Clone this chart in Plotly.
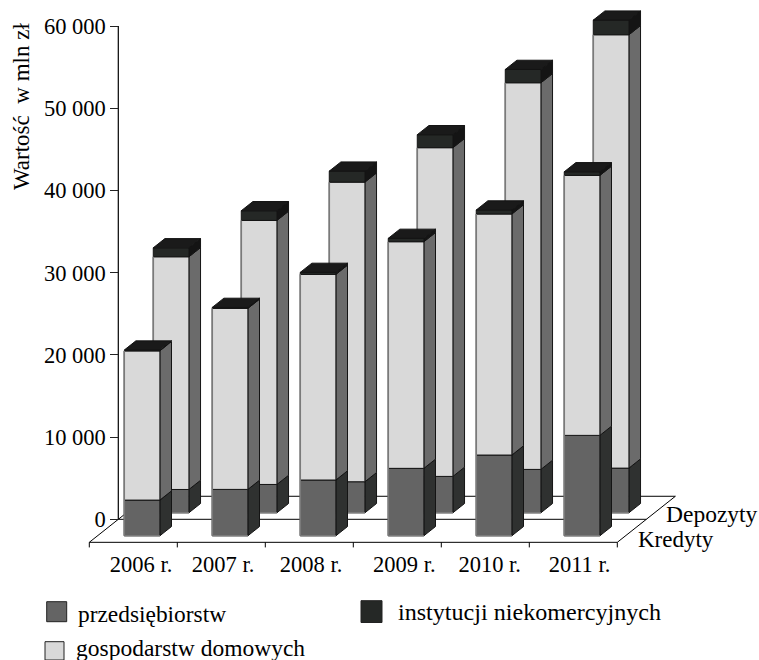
import plotly.graph_objects as go

# ---------- data (mln zl) ----------
years = ["2006 r.", "2007 r.", "2008 r.", "2009 r.", "2010 r.", "2011 r."]
rows = ["Kredyty", "Depozyty"]
kredyty_przedsiebiorstw = [4340, 5640, 6780, 8200, 9820, 12210]
kredyty_gospodarstwa = [18160, 22020, 25020, 27570, 29320, 31630]
kredyty_instytucje = [90, 120, 240, 410, 490, 440]
depozyty_przedsiebiorstw = [2830, 3440, 3770, 4420, 5270, 5430]
depozyty_gospodarstwa = [28310, 32120, 36450, 39990, 47040, 52720]
depozyty_instytucje = [1090, 1180, 1340, 1580, 1620, 1780]
y_tick_values = [0, 10000, 20000, 30000, 40000, 50000, 60000]
y_tick_labels = ["0", "10 000", "20 000", "30 000", "40 000", "50 000", "60 000"]
year_label_slots = [0.5875, 1.52, 2.52, 3.58, 4.55, 5.57]

# ---------- look ----------
W, H = 759, 660
FONT = "Liberation Serif"
PX_PER_SLOT = 88.0
PX_PER_1000 = 8.22
LEFT_PX, ZERO_PX = 89.3, 519.3
AXIS_PX = 118.3
SKEW_X = 0.33      # slots per depth unit
SKEW_Y = 2800.0    # value per depth unit
BAR_W = 0.405
BAR_D = 0.40
BAR_X = 0.303
ROW_D = [0.285, 1.285]
EDGE = "#141414"
LIGHT_EDGE = "#7a7a7a"
FACES = [
    dict(name="przedsiębiorstw", front="#646464", side="#2f3130"),
    dict(name="gospodarstw domowych", front="#d9d9d9", side="#6b6b6b"),
    dict(name="instytucji niekomercyjnych", front="#252826", side="#141414"),
]
TOP = "#1a1a1a"
TEXT = "#000000"


def proj(x, d, v):
    return x + d * SKEW_X, v + (d - 1) * SKEW_Y


fig = go.Figure()


def poly(points, color, name=None):
    p = [proj(*q) for q in points]
    p.append(p[0])
    fig.add_trace(go.Scatter(
        x=[a for a, _ in p], y=[b for _, b in p], mode="lines", fill="toself",
        fillcolor=color, line=dict(color=EDGE, width=1), hoverinfo="skip",
        showlegend=False, name=name))


def segs(seglist, width=1.0, color="#000000"):
    xs, ys = [], []
    for a, b in seglist:
        pa, pb = proj(*a), proj(*b)
        xs += [pa[0], pb[0], None]
        ys += [pa[1], pb[1], None]
    fig.add_trace(go.Scatter(x=xs, y=ys, mode="lines", hoverinfo="skip", showlegend=False,
                             line=dict(color=color, width=width)))


# y axis line, from the library's value scale
axis_x = (AXIS_PX - LEFT_PX) / PX_PER_SLOT
fig.add_trace(go.Scatter(x=[axis_x, axis_x], y=[0, y_tick_values[-1]], mode="lines", hoverinfo="skip",
                         showlegend=False, line=dict(color="#000000", width=1.2)))

# floor outline, with vertical tick marks below the front edge
n = len(years)
floor = []
for d in (0, 1, 2):
    floor.append(((0, d, 0), (n, d, 0)))
floor.append(((0, 0, 0), (0, 1.2, 0)))
floor.append(((n, 0, 0), (n, 2, 0)))
for i in range(n + 1):
    floor.append(((i, 0, 0), (i, 0, -620)))
segs(floor)


def bar(i, d0, stack):
    x0, x1 = i + BAR_X, i + BAR_X + BAR_W
    d1 = d0 + BAR_D
    base = 0.0
    for face, val in zip(FACES, stack):
        top = base + val
        poly([(x1, d0, base), (x1, d1, base), (x1, d1, top), (x1, d0, top)], face["side"], face["name"])
        poly([(x0, d0, base), (x1, d0, base), (x1, d0, top), (x0, d0, top)], face["front"], face["name"])
        base = top
    poly([(x0, d0, base), (x1, d0, base), (x1, d1, base), (x0, d1, base)], TOP)
    segs([((x0, d0, 0), (x1, d0, 0)), ((x0, d0, 0), (x0, d0, stack[0] + stack[1]))], width=1.6, color=LIGHT_EDGE)


for i in range(n):
    bar(i, ROW_D[1], [depozyty_przedsiebiorstw[i], depozyty_gospodarstwa[i], depozyty_instytucje[i]])
for i in range(n):
    bar(i, ROW_D[0], [kredyty_przedsiebiorstw[i], kredyty_gospodarstwa[i], kredyty_instytucje[i]])


def px(x):
    return x / W


def py(y):
    return 1 - y / H


txt = [
    ("Wartość  w mln zł", 21, 107, 23, "center", -90),
    ("Depozyty", 665, 514, 23.5, "left", 0),
    ("Kredyty", 637, 539, 23, "left", 0),
    (FACES[0]["name"], 77, 614, 23.4, "left", 0),
    (FACES[2]["name"], 397, 612, 24.1, "left", 0),
    (FACES[1]["name"], 75, 648, 23.5, "left", 0),
]
annotations = [dict(text=t, x=px(a), y=py(b), xref="paper", yref="paper", showarrow=False,
                    xanchor=xa, yanchor="middle", textangle=rot, borderpad=0,
                    font=dict(family=FONT, size=s, color=TEXT))
               for t, a, b, s, xa, rot in txt]

swatches = [(46.7, 601.7, 66.7, 621.7, FACES[0]["front"]),
            (361, 600.7, 382, 622.5, FACES[2]["front"]),
            (45, 641.7, 64, 660, FACES[1]["front"])]
shapes = [dict(type="rect", xref="paper", yref="paper", x0=px(a), x1=px(c), y0=py(b), y1=py(e),
               fillcolor=col, line=dict(color="#222222", width=1))
          for a, b, c, e, col in swatches]

fig.update_layout(
    width=W, height=H, margin=dict(l=0, r=0, t=0, b=0), paper_bgcolor="white", plot_bgcolor="white",
    showlegend=False, annotations=annotations, shapes=shapes,
    font=dict(family=FONT, size=22, color=TEXT),
    xaxis=dict(range=[-LEFT_PX / PX_PER_SLOT, (W - LEFT_PX) / PX_PER_SLOT], showgrid=False, zeroline=False,
               showline=False, tickmode="array", tickvals=year_label_slots, ticktext=years, ticklen=0,
               anchor="free", position=(H - 548) / H, tickfont=dict(family=FONT, size=22.5, color=TEXT)),
    yaxis=dict(range=[(ZERO_PX - H) / PX_PER_1000 * 1000, ZERO_PX / PX_PER_1000 * 1000], showgrid=False,
               zeroline=False, showline=False, tickmode="array", tickvals=y_tick_values, ticktext=y_tick_labels,
               ticks="outside", ticklen=8, tickcolor="#222222", tickwidth=1,
               anchor="free", position=AXIS_PX / W, tickfont=dict(family=FONT, size=22.5, color=TEXT)),
)

fig.write_html("out.html", post_script="document.body.style.margin='0';",
               config=dict(displayModeBar=False))
